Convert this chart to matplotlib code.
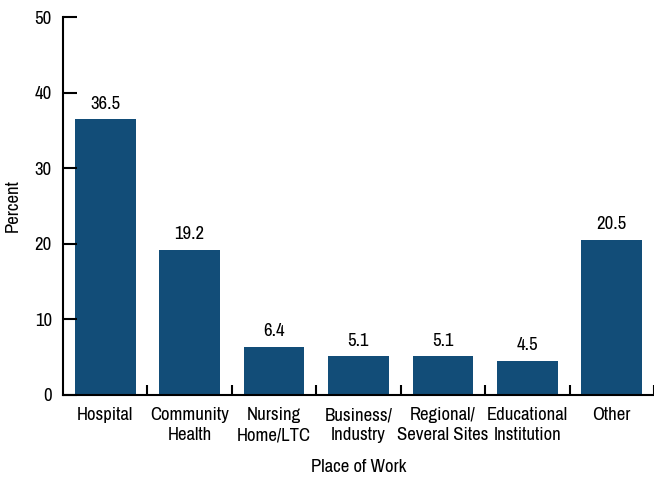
import matplotlib
matplotlib.use("Agg")
import matplotlib.pyplot as plt
import numpy as np

categories = ["Hospital", "Community\nHealth", "Nursing\nHome/LTC", "Business/\nIndustry",
              "Regional/\nSeveral Sites", "Educational\nInstitution", "Other"]
values = [36.5, 19.2, 6.4, 5.1, 5.1, 4.5, 20.5]
labels = ["36.5", "19.2", "6.4", "5.1", "5.1", "4.5", "20.5"]

plt.rcParams['font.family'] = ['Arial Narrow', 'Liberation Sans Narrow', 'Archivo Narrow',
                               'Roboto Condensed', 'Liberation Sans', 'DejaVu Sans']
fs = 13.5

fig = plt.figure(figsize=(6.54, 4.79), dpi=100)
ax = fig.add_axes([0.0963, 0.1754, 0.9037, 0.789])

x = np.arange(len(categories))
bars = ax.bar(x, values, width=0.72, color="#124d78")
for b, lab in zip(bars, labels):
    ax.text(b.get_x() + b.get_width() / 2, b.get_height() + 1.0, lab,
            ha="center", va="bottom", fontsize=fs)

ax.set_xlim(-0.5, 6.45)
ax.set_ylim(0, 50)
ax.set_yticks([0, 10, 20, 30, 40, 50])
ax.set_xticks(x)
ax.set_xticklabels(categories, fontsize=fs, linespacing=1.3)
ax.set_xticks(np.arange(len(categories)) + 0.5, minor=True)
ax.tick_params(axis="x", which="major", length=0, pad=9)
ax.tick_params(axis="x", which="minor", direction="in", length=7, width=1.5)
ax.tick_params(axis="y", direction="in", length=10, width=1.5, labelsize=fs, pad=8)

for s in ["top", "right"]:
    ax.spines[s].set_visible(False)
for s in ["left", "bottom"]:
    ax.spines[s].set_linewidth(1.5)

ax.set_ylabel("Percent", fontsize=fs, labelpad=10)
ax.set_xlabel("Place of Work", fontsize=fs, labelpad=11)

fig.savefig("out.png", dpi=100)
